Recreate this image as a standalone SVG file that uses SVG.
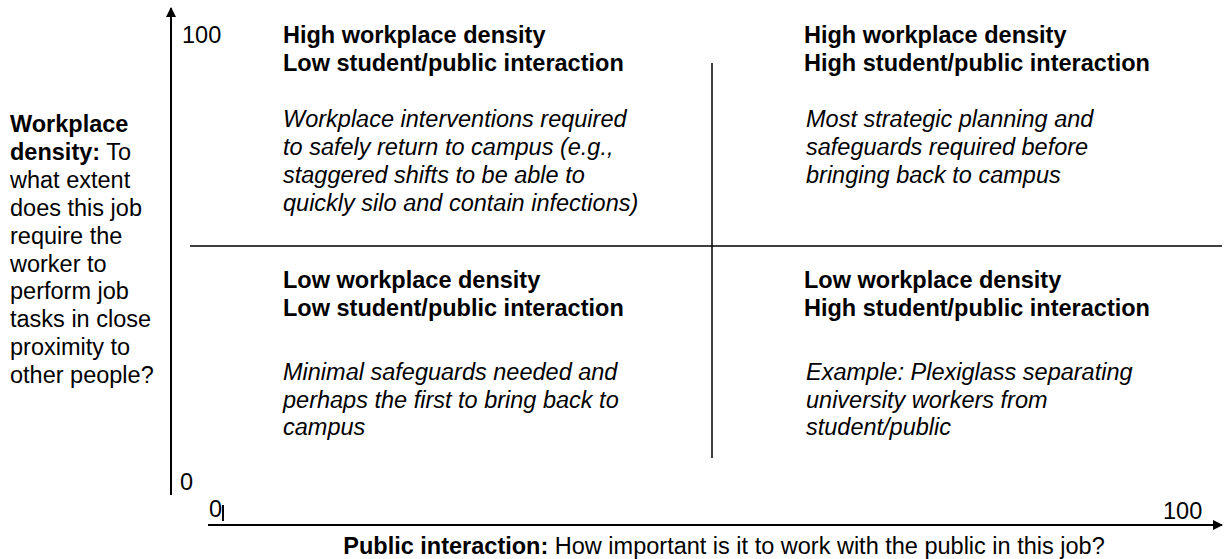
<svg xmlns="http://www.w3.org/2000/svg" width="1225" height="559" viewBox="0 0 1225 559">
  <style>
    text { font-family: "Liberation Sans", Arial, sans-serif; font-size: 23.5px; fill: #000; }
    .b { font-weight: bold; }
    .i { font-style: italic; }
    .axis { stroke: #000; stroke-width: 2; fill: none; }
    .div { stroke: #000; stroke-width: 1.5; fill: none; }
  </style>
  <defs>
    <marker id="arrow" markerWidth="10" markerHeight="10" refX="9" refY="5" orient="auto" markerUnits="userSpaceOnUse">
      <path d="M0,0 L10,5 L0,10 Z" fill="#000"/>
    </marker>
  </defs>

  <!-- axes and quadrant dividers -->
  <g id="connectors">
    <line class="axis" x1="171" y1="495" x2="171" y2="8" marker-end="url(#arrow)"/>
    <line class="axis" x1="208" y1="525" x2="1222" y2="525" marker-end="url(#arrow)"/>
    <line class="axis" x1="223" y1="505" x2="223" y2="521"/>
    <line class="div" x1="190" y1="246" x2="1222" y2="246"/>
    <line class="div" x1="712" y1="63" x2="712" y2="458"/>
  </g>

  <!-- axis tick labels -->
  <g id="ticks">
    <text x="182" y="43">100</text>
    <text x="180" y="490">0</text>
    <text x="209" y="517">0</text>
    <text x="1163" y="519">100</text>
  </g>

  <!-- vertical axis title -->
  <g id="y-label">
    <text x="10" y="132" class="b">Workplace</text>
    <text x="10" y="160"><tspan class="b">density:</tspan> To</text>
    <text x="10" y="188">what extent</text>
    <text x="10" y="216">does this job</text>
    <text x="10" y="244">require the</text>
    <text x="10" y="272">worker to</text>
    <text x="10" y="299">perform job</text>
    <text x="10" y="327">tasks in close</text>
    <text x="10" y="355">proximity to</text>
    <text x="10" y="383">other people?</text>
  </g>

  <!-- horizontal axis title -->
  <g id="x-label">
    <text x="724" y="554" text-anchor="middle"><tspan class="b">Public interaction:</tspan> How important is it to work with the public in this job?</text>
  </g>

  <!-- quadrants -->
  <g id="q-high-low">
    <text x="283" y="43" class="b">High workplace density</text>
    <text x="283" y="71" class="b">Low student/public interaction</text>
    <text x="283" y="127" class="i">Workplace interventions required</text>
    <text x="283" y="155" class="i">to safely return to campus (e.g.,</text>
    <text x="283" y="183" class="i">staggered shifts to be able to</text>
    <text x="283" y="211" class="i">quickly silo and contain infections)</text>
  </g>

  <g id="q-high-high">
    <text x="804" y="43" class="b">High workplace density</text>
    <text x="804" y="71" class="b">High student/public interaction</text>
    <text x="806" y="127" class="i">Most strategic planning and</text>
    <text x="806" y="155" class="i">safeguards required before</text>
    <text x="806" y="183" class="i">bringing back to campus</text>
  </g>

  <g id="q-low-low">
    <text x="283" y="288" class="b">Low workplace density</text>
    <text x="283" y="316" class="b">Low student/public interaction</text>
    <text x="283" y="380" class="i">Minimal safeguards needed and</text>
    <text x="283" y="408" class="i">perhaps the first to bring back to</text>
    <text x="283" y="435" class="i">campus</text>
  </g>

  <g id="q-low-high">
    <text x="804" y="288" class="b">Low workplace density</text>
    <text x="804" y="316" class="b">High student/public interaction</text>
    <text x="806" y="380" class="i">Example: Plexiglass separating</text>
    <text x="806" y="408" class="i">university workers from</text>
    <text x="806" y="435" class="i">student/public</text>
  </g>
</svg>
